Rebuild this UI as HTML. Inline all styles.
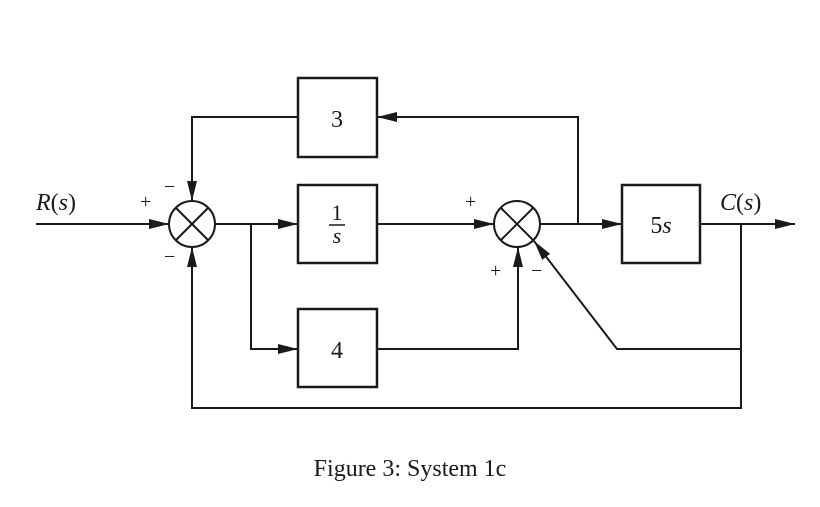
<!DOCTYPE html>
<html><head><style>body{margin:0;background:#fff}svg{display:block}</style></head><body>
<svg width="820" height="507" viewBox="0 0 820 507" xmlns="http://www.w3.org/2000/svg">
<defs><marker id="a" markerWidth="10" markerHeight="8" refX="10" refY="4" orient="auto" markerUnits="userSpaceOnUse" viewBox="0 0 10 8"><path d="M0,0 L10,4 L0,8 Z" fill="#1a1a1a"/></marker>
<marker id="b" markerWidth="20" markerHeight="10" refX="20" refY="5" orient="auto" markerUnits="userSpaceOnUse" viewBox="0 0 20 10"><path d="M0,0 L20,5 L0,10 Z" fill="#1a1a1a"/></marker></defs>
<g stroke="#1a1a1a" stroke-width="2" fill="none">
<rect x="298" y="78" width="79" height="79" stroke-width="2.5"/>
<rect x="298" y="185" width="79" height="78" stroke-width="2.5"/>
<rect x="298" y="309" width="79" height="78" stroke-width="2.5"/>
<rect x="622" y="185" width="78" height="78" stroke-width="2.5"/>
<circle cx="192" cy="224" r="23"/>
<line x1="176" y1="208" x2="208" y2="240"/><line x1="208" y1="208" x2="176" y2="240"/>
<circle cx="517" cy="224" r="23"/>
<line x1="501" y1="208" x2="533" y2="240"/><line x1="533" y1="208" x2="501" y2="240"/>
<line x1="36" y1="224" x2="169" y2="224" marker-end="url(#b)"/>
<line x1="215" y1="224" x2="298" y2="224" marker-end="url(#b)"/>
<polyline points="251,224 251,349 298,349" marker-end="url(#b)"/>
<line x1="377" y1="224" x2="494" y2="224" marker-end="url(#b)"/>
<polyline points="377,349 518,349 518,247" marker-end="url(#b)"/>
<line x1="540" y1="224" x2="622" y2="224" marker-end="url(#b)"/>
<polyline points="578,224 578,117 377,117" marker-end="url(#b)"/>
<polyline points="298,117 192,117 192,201" marker-end="url(#b)"/>
<line x1="700" y1="224" x2="795" y2="224" marker-end="url(#b)"/>
<polyline points="741,224 741,408 192,408 192,247" marker-end="url(#b)"/>
<polyline points="741,349 617,349 534,241" marker-end="url(#b)"/>
</g>
<g font-family="Liberation Serif, serif" fill="#1a1a1a">
<text x="337" y="127" font-size="24" text-anchor="middle">3</text>
<text x="337" y="358" font-size="24" text-anchor="middle">4</text>
<text x="337" y="220" font-size="22" text-anchor="middle">1</text>
<line x1="329" y1="225" x2="345" y2="225" stroke="#1a1a1a" stroke-width="1.5"/>
<text x="337" y="243" font-size="22" font-style="italic" text-anchor="middle">s</text>
<text x="661" y="233" font-size="24" text-anchor="middle">5<tspan font-style="italic">s</tspan></text>
<text x="36" y="210" font-size="24" font-style="italic">R<tspan font-style="normal">(</tspan>s<tspan font-style="normal">)</tspan></text>
<text x="720" y="210" font-size="24" font-style="italic">C<tspan font-style="normal">(</tspan>s<tspan font-style="normal">)</tspan></text>
<text x="140" y="208" font-size="20">+</text>
<text x="164" y="193" font-size="20">−</text>
<text x="164" y="263" font-size="20">−</text>
<text x="465" y="208" font-size="20">+</text>
<text x="490" y="277" font-size="20">+</text>
<text x="531" y="277" font-size="20">−</text>
<text x="410" y="476" font-size="24" text-anchor="middle">Figure 3: System 1c</text>
</g>
</svg>
</body></html>
